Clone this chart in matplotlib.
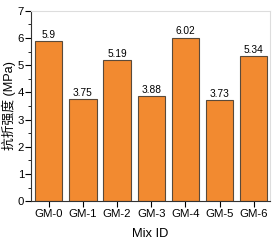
import numpy as np
import matplotlib.pyplot as plt
from matplotlib.ticker import MultipleLocator

plt.rcParams['font.family'] = ['Liberation Sans', 'Noto Sans CJK SC']

mixes = ["GM-0", "GM-1", "GM-2", "GM-3", "GM-4", "GM-5", "GM-6"]
strength = [5.9, 3.75, 5.19, 3.88, 6.02, 3.73, 5.34]
value_labels = ["5.9", "3.75", "5.19", "3.88", "6.02", "3.73", "5.34"]

fig = plt.figure(figsize=(2.74, 2.42), dpi=100)
ax = fig.add_axes([0.113, 0.169, 0.872, 0.786])

x = np.arange(len(mixes))
bars = ax.bar(x, strength, width=0.8, color="#F28A30", edgecolor="#5a4a3a", linewidth=0.8)
for xi, v, lab in zip(x, strength, value_labels):
    ax.text(xi, v + 0.04, lab, ha="center", va="bottom", fontsize=7.3)

ax.set_xlim(-0.52, 6.47)
ax.set_ylim(0, 7)
ax.set_xticks(x)
ax.set_xticklabels(mixes)
ax.yaxis.set_major_locator(MultipleLocator(1))
ax.yaxis.set_minor_locator(MultipleLocator(0.5))
ax.tick_params(axis="both", labelsize=8.2, length=4, width=0.8)
ax.tick_params(axis="x", pad=2)
ax.tick_params(axis="y", pad=1)
ax.tick_params(axis="y", which="minor", length=2.2, width=0.6)
ax.set_xlabel("Mix ID", fontsize=9.3, labelpad=6)
ax.set_ylabel("抗折强度 (MPa)", fontsize=9.2, labelpad=1)

for s in ["left", "bottom"]:
    ax.spines[s].set_color("#333333")
    ax.spines[s].set_linewidth(0.8)
for s in ["top", "right"]:
    ax.spines[s].set_color("#dddddd")
    ax.spines[s].set_linewidth(0.8)

fig.savefig("out.png", dpi=100)
